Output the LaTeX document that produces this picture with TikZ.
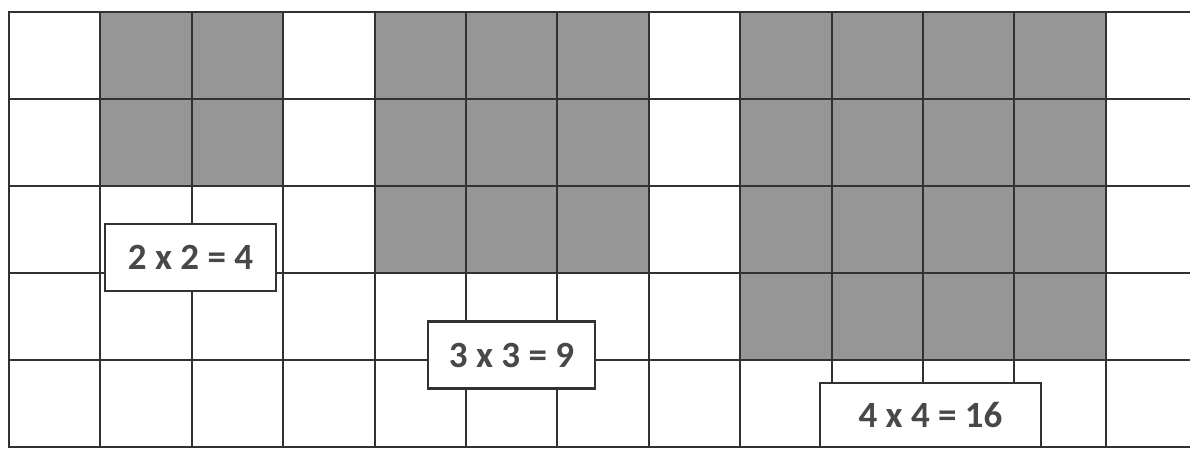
\documentclass[tikz,border=0pt]{standalone}
\usepackage{fontspec}
\setmainfont{Carlito}
\usetikzlibrary{positioning}
\definecolor{gridgray}{RGB}{50,50,50}
\definecolor{shadegray}{RGB}{150,150,150}
\definecolor{labelgray}{RGB}{72,72,72}
\tikzset{
  gridline/.style={draw=gridgray, line width=2pt, line cap=rect},
  shaded/.style={fill=shadegray},
  product/.style={
    draw=gridgray,
    line width=2.8pt,
    fill=white,
    text=labelgray,
    font=\bfseries\fontsize{37}{42}\selectfont,
    minimum height=67pt,
    inner sep=0pt
  }
}

\begin{document}
\begin{tikzpicture}[x=1pt,y=-1pt]
\useasboundingbox (0,0) rectangle (1190,458);
% squares 2x2, 3x3, 4x4
\fill[shaded] ({9+91.4*1},12) rectangle ({9+91.4*3},{12+87*2});
\fill[shaded] ({9+91.4*4},12) rectangle ({9+91.4*7},{12+87*3});
\fill[shaded] ({9+91.4*8},12) rectangle ({9+91.4*12},{12+87*4});
% grid
\foreach \c in {0,...,12}
  \draw[gridline] ({9+91.4*\c},12) -- ({9+91.4*\c},447);
\foreach \r in {0,...,5}
  \draw[gridline] (9,{12+87*\r}) -- (1190,{12+87*\r});
% labels
\node[product, minimum width=171pt] (twobytwo) at (190.5,257.5) {2 x 2 = 4};
\node[product, minimum width=167pt] (threebythree) at (511.5,355) {3 x 3 = 9};
\node[product, minimum width=221pt, minimum height=64pt] (fourbyfour) at (930.5,415) {4 x 4 = 16};
\end{tikzpicture}
\end{document}
